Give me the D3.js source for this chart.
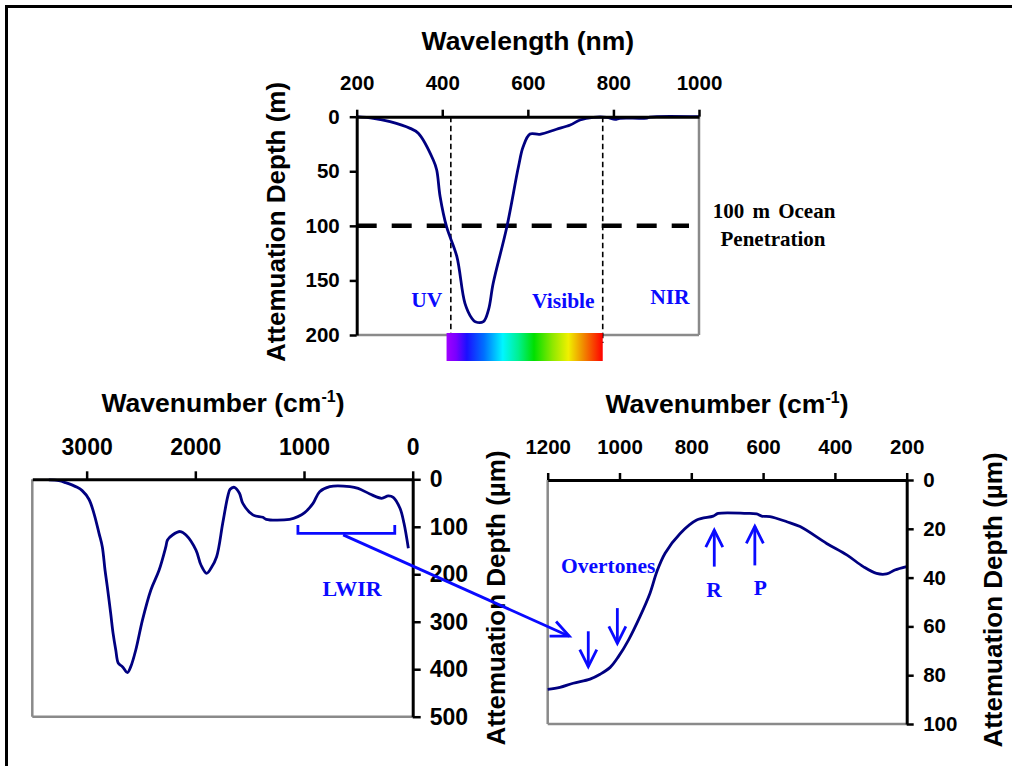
<!DOCTYPE html>
<html>
<head>
<meta charset="utf-8">
<script src="https://cdn.jsdelivr.net/npm/d3@7"></script>
<style>
  html, body { margin: 0; padding: 0; background: #fff; }
  svg { display: block; }
</style>
</head>
<body>
<svg id="chart" width="1012" height="766"></svg>
<script>
// ---- Data ----
// Visible / near-IR attenuation depth of water (metres)
const wavelengthNm = [200, 239, 278, 325, 344, 379, 387, 395, 410, 434, 453, 469, 477, 496, 508, 519, 551, 578, 589, 605, 628, 667, 699, 722, 753, 784, 804, 815, 878, 885, 1000];
const depthM = [0, 1.5, 4.6, 10.7, 15.2, 39.7, 48.8, 73.3, 100.8, 128, 171, 184.7, 187.8, 187.8, 177, 152.6, 100.8, 45.8, 27.5, 15.9, 16.1, 11.5, 7.6, 3, 0.6, 0.6, 2.4, 1.5, 1.2, 0.3, 0];

// Infrared attenuation depth (micrometres), full wavenumber range
const wavenumberIR = [3348, 3256, 3194, 3087, 3041, 2979, 2933, 2886, 2856, 2831, 2810, 2779, 2757, 2732, 2708, 2671, 2625, 2594, 2548, 2486, 2409, 2333, 2271, 2256, 2210, 2139, 2086, 1994, 1948, 1896, 1856, 1804, 1748, 1702, 1680, 1640, 1594, 1563, 1471, 1379, 1348, 1133, 1056, 994, 917, 856, 763, 578, 502, 394, 286, 225, 179, 117, 80, 40];
const depthIR = [1.4, 2.8, 7, 16.9, 23.9, 42, 71.6, 113.8, 141.8, 191, 226, 282, 324, 359.5, 387.6, 394.6, 407, 394.6, 359.5, 296, 233, 191, 141.8, 127.8, 117.3, 110, 117.3, 149, 180.5, 198, 187.5, 163, 92.7, 36.5, 21, 16.9, 29.5, 50.6, 75, 80, 84.3, 84.3, 78.6, 70.2, 50.6, 26, 15.4, 15.4, 19, 30.9, 40, 35, 37.9, 61, 92.7, 145.4];

// Long-wave IR detail (micrometres)
const wavenumberLWIR = [1200, 1166, 1129, 1082, 1054, 1026, 1003, 975, 943, 915, 896, 873, 831, 785, 739, 725, 646, 618, 604, 581, 534, 497, 423, 367, 321, 284, 256, 233, 200];
const depthLWIR = [85.8, 85, 83.3, 81.6, 79.6, 76.8, 72.4, 65.6, 56, 46.4, 37.6, 30, 21.9, 16.4, 14.8, 13.7, 13.7, 13.9, 14.8, 15, 17.1, 19.1, 26, 30.7, 35.5, 38.3, 38.5, 36.9, 35.5];

// Axis ticks
const ticksWavelength = [200, 400, 600, 800, 1000];
const ticksDepthM = [0, 50, 100, 150, 200];
const ticksWavenumberIR = [3000, 2000, 1000, 0];
const ticksDepthIR = [0, 100, 200, 300, 400, 500];
const ticksWavenumberLWIR = [1200, 1000, 800, 600, 400, 200];
const ticksDepthLWIR = [0, 20, 40, 60, 80, 100];

// Band limits and reference depth
const oceanPenetrationM = 100;
const bandEdgesNm = [420, 775];          // UV | Visible | NIR
const spectrumBarNm = [410, 775];
const bandLabels = [
  { text: "UV", nm: 364, depth: 174 },
  { text: "Visible", nm: 683, depth: 175 },
  { text: "NIR", nm: 932, depth: 172 }
];
// LWIR bracket on the infrared panel
const lwirBracket = { from: 1056, to: 165, depth: 114, tip: 96 };
const lwirLabel = { text: "LWIR", wn: 557, depth: 246 };
// Arrow linking the bracket to the detailed panel
const linkArrow = { fromWn: 640, fromDepth: 117, toWn: 1140, toDepth: 64 };
// Band markers on the detailed panel
const bandArrows = [
  { wn: 1087, from: 62, to: 76.5 },
  { wn: 1006, from: 52.5, to: 67 },
  { wn: 736, from: 35.5, to: 20.5 },
  { wn: 623, from: 35, to: 19 }
];
const lwirTexts = [
  { text: "Overtones", wn: 1163, depth: 38.2, anchor: "start" },
  { text: "R", wn: 737, depth: 48.1, anchor: "middle" },
  { text: "P", wn: 608, depth: 47.1, anchor: "middle" }
];

// ---- Styles ----
const SANS = "'Liberation Sans', Arial, Helvetica, sans-serif";
const SERIF = "'Liberation Serif', 'Times New Roman', serif";
const NAVY = "#000080";
const BLUE = "#0a0aff";
const GRAY = "#8a8a8a";
const fmt = d3.format("d");

const svg = d3.select("#chart");

// Outer frame (top and left edges)
svg.append("path")
  .attr("d", "M6.5,766 L6.5,6.5 L1012,6.5")
  .attr("fill", "none").attr("stroke", "#000").attr("stroke-width", 3);

function styleAxis(g, fontSize) {
  g.select(".domain").attr("stroke", "#000").attr("stroke-width", 3);
  g.selectAll(".tick line").attr("stroke", "#000").attr("stroke-width", 2.5);
  g.selectAll(".tick text")
    .attr("fill", "#000")
    .style("font-family", SANS)
    .style("font-weight", "bold")
    .style("font-size", fontSize + "px");
}

function grayEdges(g, x0, x1, y0, y1, which) {
  const paths = [];
  if (which.includes("left")) paths.push(`M${x0},${y0} L${x0},${y1}`);
  if (which.includes("right")) paths.push(`M${x1},${y0} L${x1},${y1}`);
  if (which.includes("bottom")) paths.push(`M${x0},${y1} L${x1},${y1}`);
  g.append("path").attr("d", paths.join(" "))
    .attr("fill", "none").attr("stroke", GRAY).attr("stroke-width", 2.5);
}

function axisTitle(g, x, y, rotate, parts, size) {
  const t = g.append("text")
    .attr("transform", `translate(${x},${y})` + (rotate ? ` rotate(${rotate})` : ""))
    .attr("text-anchor", "middle")
    .style("font-family", SANS).style("font-weight", "bold")
    .style("font-size", size + "px").attr("fill", "#000");
  parts.forEach(p => {
    const s = t.append("tspan").text(p.text);
    if (p.dy) s.attr("dy", p.dy);
    if (p.size) s.style("font-size", p.size + "px");
  });
  return t;
}

function arrowHead(g, x1, y1, x2, y2, len, half, color, width) {
  const ang = Math.atan2(y2 - y1, x2 - x1);
  const bx = x2 - len * Math.cos(ang), by = y2 - len * Math.sin(ang);
  const px = -Math.sin(ang) * half, py = Math.cos(ang) * half;
  g.append("path")
    .attr("d", `M${bx + px},${by + py} L${x2},${y2} L${bx - px},${by - py}`)
    .attr("fill", "none").attr("stroke", color).attr("stroke-width", width)
    .attr("stroke-linejoin", "miter");
}

// ================= Panel 1: wavelength =================
{
  const L = 356.7, R = 699, T = 116.7, B = 335;
  const x = d3.scaleLinear().domain([200, 1000]).range([L, R]);
  const y = d3.scaleLinear().domain([0, 200]).range([T, B]);
  const g = svg.append("g");

  grayEdges(g, L, R, T, B, ["right", "bottom"]);

  // band boundary lines
  bandEdgesNm.forEach(nm => {
    g.append("line")
      .attr("x1", x(nm)).attr("x2", x(nm))
      .attr("y1", y(0)).attr("y2", B + 8)
      .attr("stroke", "#000").attr("stroke-width", 1.6)
      .attr("stroke-dasharray", "5.5,3.5");
  });

  // visible spectrum bar
  const grad = svg.append("defs").append("linearGradient").attr("id", "spectrum");
  [[0, "#a000ff"], [0.06, "#7a00ff"], [0.13, "#1a10ff"], [0.24, "#0070ff"],
   [0.36, "#00f6ff"], [0.46, "#00f090"], [0.56, "#00e000"], [0.68, "#90e800"],
   [0.78, "#f0f000"], [0.87, "#f09000"], [1, "#ff0000"]]
    .forEach(([o, c]) => grad.append("stop").attr("offset", o).attr("stop-color", c));
  g.append("rect")
    .attr("x", x(spectrumBarNm[0])).attr("width", x(spectrumBarNm[1]) - x(spectrumBarNm[0]))
    .attr("y", B - 2).attr("height", 28)
    .attr("fill", "url(#spectrum)");

  // 100 m ocean penetration
  g.append("line")
    .attr("x1", L).attr("x2", R - 10)
    .attr("y1", y(oceanPenetrationM)).attr("y2", y(oceanPenetrationM))
    .attr("stroke", "#000").attr("stroke-width", 4.5)
    .attr("stroke-dasharray", "20,15");

  const line = d3.line()
    .x((d, i) => x(wavelengthNm[i]))
    .y(d => y(d))
    .curve(d3.curveCatmullRom.alpha(0.5));
  g.append("path").datum(depthM)
    .attr("d", line)
    .attr("fill", "none").attr("stroke", NAVY).attr("stroke-width", 2.8)
    .attr("stroke-linejoin", "round");

  const ax = g.append("g").attr("transform", `translate(0,${T})`)
    .call(d3.axisTop(x).tickValues(ticksWavelength).tickFormat(fmt).tickSize(7).tickSizeOuter(0).tickPadding(20));
  styleAxis(ax, 20.5);
  const ay = g.append("g").attr("transform", `translate(${L},0)`)
    .call(d3.axisLeft(y).tickValues(ticksDepthM).tickFormat(fmt).tickSize(7).tickSizeOuter(0).tickPadding(10));
  styleAxis(ay, 20.5);

  bandLabels.forEach(b => {
    g.append("text")
      .attr("x", x(b.nm)).attr("y", y(b.depth))
      .attr("text-anchor", "middle")
      .style("font-family", SERIF).style("font-weight", "bold").style("font-size", "21.5px")
      .attr("fill", BLUE).text(b.text);
  });

  const ocean = g.append("text")
    .attr("text-anchor", "middle")
    .style("font-family", SERIF).style("font-weight", "bold").style("font-size", "21px")
    .attr("fill", "#000");
  ocean.append("tspan").attr("x", 774).attr("y", y(oceanPenetrationM) - 7.5)
    .style("word-spacing", "3px").text("100 m Ocean");
  ocean.append("tspan").attr("x", 773).attr("y", y(oceanPenetrationM) + 20).text("Penetration");

  axisTitle(g, (L + R) / 2, 50, 0, [{ text: "Wavelength (nm)" }], 26.5);
  axisTitle(g, 285, 222, -90, [{ text: "Attemuation Depth (m)" }], 26);
}

// ================= Panel 2: infrared =================
let irX, irY;
{
  const L = 32.3, R = 412.7, T = 479.3, B = 716.7;
  const x = d3.scaleLinear().domain([3500, 0]).range([L, R]);
  const y = d3.scaleLinear().domain([0, 500]).range([T, B]);
  irX = x; irY = y;
  const g = svg.append("g");

  grayEdges(g, L, R, T, B, ["left", "bottom"]);

  const line = d3.line()
    .x((d, i) => x(wavenumberIR[i]))
    .y(d => y(d))
    .curve(d3.curveCatmullRom.alpha(0.5));
  g.append("path").datum(depthIR)
    .attr("d", line)
    .attr("fill", "none").attr("stroke", NAVY).attr("stroke-width", 2.8)
    .attr("stroke-linejoin", "round");

  const ax = g.append("g").attr("transform", `translate(0,${T})`)
    .call(d3.axisTop(x).tickValues(ticksWavenumberIR).tickFormat(fmt).tickSize(8).tickSizeOuter(0).tickPadding(16));
  styleAxis(ax, 23);
  const ay = g.append("g").attr("transform", `translate(${R},0)`)
    .call(d3.axisRight(y).tickValues(ticksDepthIR).tickFormat(fmt).tickSize(8).tickSizeOuter(0).tickPadding(9));
  styleAxis(ay, 23);

  // LWIR bracket
  g.append("path")
    .attr("d", `M${x(lwirBracket.from)},${y(lwirBracket.tip)} L${x(lwirBracket.from)},${y(lwirBracket.depth)} ` +
               `L${x(lwirBracket.to)},${y(lwirBracket.depth)} L${x(lwirBracket.to)},${y(lwirBracket.tip)}`)
    .attr("fill", "none").attr("stroke", BLUE).attr("stroke-width", 2.8);
  g.append("text")
    .attr("x", x(lwirLabel.wn)).attr("y", y(lwirLabel.depth))
    .attr("text-anchor", "middle")
    .style("font-family", SERIF).style("font-weight", "bold").style("font-size", "22px")
    .attr("fill", BLUE).text(lwirLabel.text);

  axisTitle(g, 223, 412, 0,
    [{ text: "Wavenumber (cm" }, { text: "-1", dy: -10, size: 16 }, { text: ")", dy: 10 }], 26.5);
  axisTitle(g, 505, 598, -90, [{ text: "Attemuation Depth (µm)" }], 26);
}

// ================= Panel 3: long-wave infrared =================
{
  const L = 547.7, R = 906.7, T = 480, B = 724;
  const x = d3.scaleLinear().domain([1200, 200]).range([L, R]);
  const y = d3.scaleLinear().domain([0, 100]).range([T, B]);
  const g = svg.append("g");

  grayEdges(g, L, R, T, B, ["left", "bottom"]);

  const line = d3.line()
    .x((d, i) => x(wavenumberLWIR[i]))
    .y(d => y(d))
    .curve(d3.curveCatmullRom.alpha(0.5));
  g.append("path").datum(depthLWIR)
    .attr("d", line)
    .attr("fill", "none").attr("stroke", NAVY).attr("stroke-width", 2.8)
    .attr("stroke-linejoin", "round");

  const ax = g.append("g").attr("transform", `translate(0,${T})`)
    .call(d3.axisTop(x).tickValues(ticksWavenumberLWIR).tickFormat(fmt).tickSize(7).tickSizeOuter(0).tickPadding(19));
  styleAxis(ax, 20.5);
  const ay = g.append("g").attr("transform", `translate(${R},0)`)
    .call(d3.axisRight(y).tickValues(ticksDepthLWIR).tickFormat(fmt).tickSize(7).tickSizeOuter(0).tickPadding(9.5));
  styleAxis(ay, 20.5);

  lwirTexts.forEach(t => {
    g.append("text")
      .attr("x", x(t.wn)).attr("y", y(t.depth))
      .attr("text-anchor", t.anchor)
      .style("font-family", SERIF).style("font-weight", "bold").style("font-size", "21.5px")
      .attr("fill", BLUE).text(t.text);
  });

  bandArrows.forEach(a => {
    const xa = x(a.wn), y1 = y(a.from), y2 = y(a.to);
    g.append("line").attr("x1", xa).attr("x2", xa).attr("y1", y1).attr("y2", y2)
      .attr("stroke", BLUE).attr("stroke-width", 2.8);
    arrowHead(g, xa, y1, xa, y2, 17, 8.5, BLUE, 2.8);
  });

  axisTitle(g, 1002, 600, -90, [{ text: "Attemuation Depth (µm)" }], 26);
  axisTitle(g, 727, 413, 0,
    [{ text: "Wavenumber (cm" }, { text: "-1", dy: -10, size: 16 }, { text: ")", dy: 10 }], 26.5);

  // link from the LWIR bracket to this panel
  const x1 = irX(linkArrow.fromWn), y1 = irY(linkArrow.fromDepth);
  const x2 = x(linkArrow.toWn), y2 = y(linkArrow.toDepth);
  svg.append("line").attr("x1", x1).attr("y1", y1).attr("x2", x2).attr("y2", y2)
    .attr("stroke", BLUE).attr("stroke-width", 2.8);
  arrowHead(svg, x1, y1, x2, y2, 18, 8, BLUE, 2.8);
}
</script>
</body>
</html>
